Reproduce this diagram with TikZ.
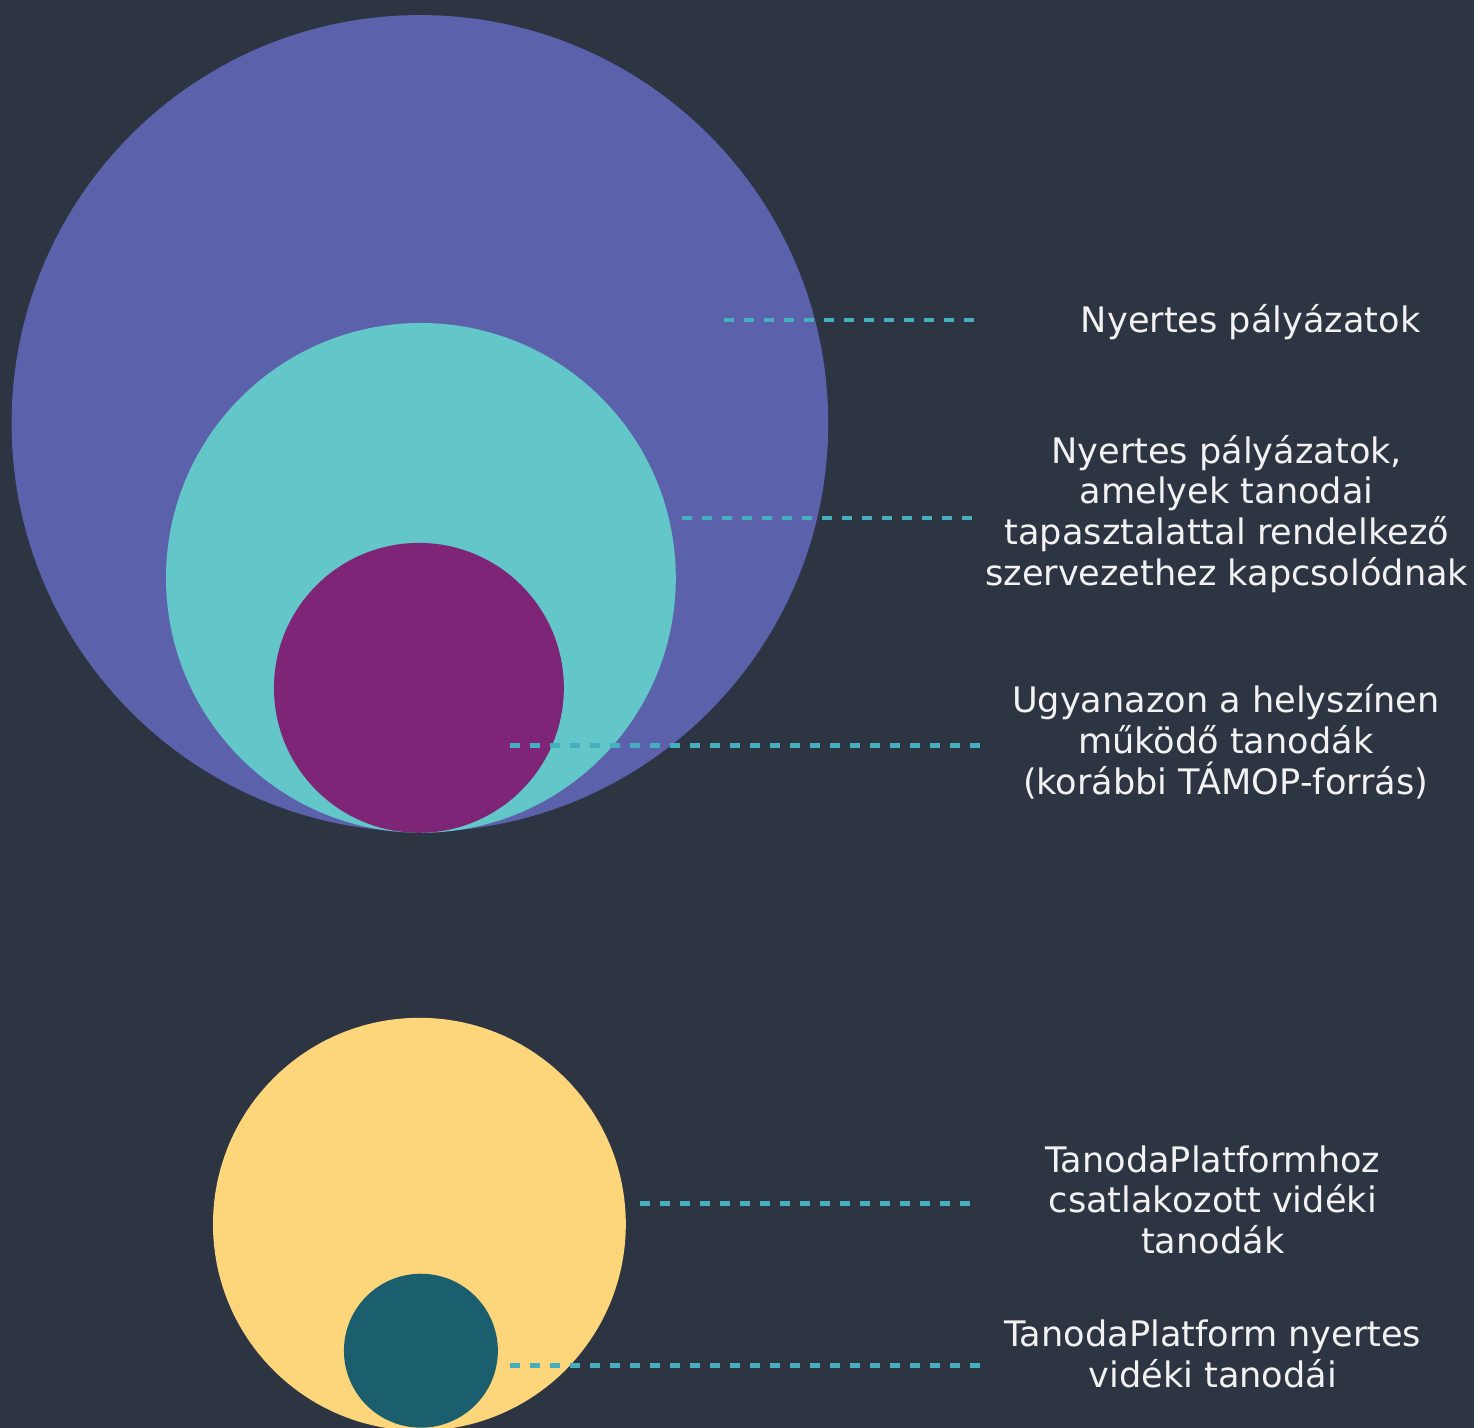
\documentclass[tikz,border=0pt]{standalone}
\usepackage{fontspec}
\setmainfont{DejaVu Sans}
\usetikzlibrary{positioning}
\definecolor{bgdark}{HTML}{2D3442}
\definecolor{outerblue}{HTML}{5B62AB}
\definecolor{midteal}{HTML}{63C6C9}
\definecolor{innerpurple}{HTML}{7F2578}
\definecolor{sunyellow}{HTML}{FDD67B}
\definecolor{deepteal}{HTML}{1B5F6E}
\definecolor{leadcol}{HTML}{45AFBF}
\definecolor{labwhite}{HTML}{F2F2F2}

\begin{document}
\begin{tikzpicture}[x=0.02cm,y=-0.02cm,
  disc/.style={circle,inner sep=0pt,draw=none,fill=#1},
  leader/.style={leadcol,line width=2.7pt,dash pattern=on 5.6pt off 5.8pt},
  caption/.style={text=labwhite,align=center,font=\fontsize{20}{23.2}\selectfont}]
  \fill [bgdark] (0,0) rectangle (1474,1428);% background, fixes the margins
  \begin{scope}
  \clip (0,0) rectangle (1474,1428);
  % upper group of circles
  \node [disc=outerblue, minimum size=16.34cm] (winners) at (420,423.5) {};
  \node [disc=midteal, minimum size=10.2cm] (experienced) at (421,578) {};
  \node [disc=innerpurple, minimum size=5.8cm] (samesite) at (419,688) {};
  % lower group of circles
  \node [disc=sunyellow, minimum size=8.26cm] (joined) at (419.5,1224.5) {};
  \node [disc=deepteal, minimum size=3.08cm] (joinwin) at (421,1351) {};
  \end{scope}
  % captions
  \node [caption] (capwinners) at (1251,322) {Nyertes pályázatok};
  \node [caption] (capexp) at (1227,514) {Nyertes pályázatok,\\amelyek tanodai\\tapasztalattal rendelkező\\szervezethez kapcsolódnak};
  \node [caption] (capsame) at (1226,742) {Ugyanazon a helyszínen\\működő tanodák\\(korábbi TÁMOP-forrás)};
  \node [caption] (capjoined) at (1213,1200) {TanodaPlatformhoz\\csatlakozott vidéki\\tanodák};
  \node [caption] (capjoinwin) at (1213,1354) {TanodaPlatform nyertes\\vidéki tanodái};
  % dashed leaders
  \coordinate (a1) at (724,320); \coordinate (b1) at (978,320);
  \coordinate (a2) at (682,518); \coordinate (b2) at (976,518);
  \coordinate (a3) at (510,746); \coordinate (b3) at (985,746);
  \coordinate (a4) at (640,1204); \coordinate (b4) at (975,1204);
  \coordinate (a5) at (510,1366); \coordinate (b5) at (980,1366);
  \foreach \i in {1,...,5}{%
    \draw [leader] (a\i) -- (b\i);}
\end{tikzpicture}
\end{document}
